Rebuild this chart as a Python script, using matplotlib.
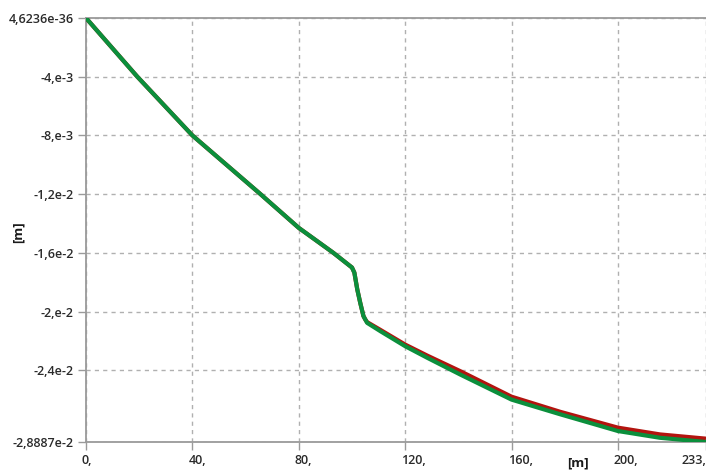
import matplotlib
matplotlib.use("Agg")
import matplotlib.pyplot as plt
import matplotlib.transforms as mtransforms

# distance along the span [m]
dist = [0, 19.3, 40.0, 65.6, 80.0, 93.0, 100.0, 100.9, 102.0, 103.1, 104.3,
        105.0, 105.7, 110.7, 120.0, 128.3, 140.7, 160.0, 178.3, 200.0, 215.8, 233.1]

# deflection [m], two load cases
defl_green = [0, -0.0040, -0.0080, -0.0120, -0.0143, -0.0160, -0.0170, -0.01735,
              -0.0185, -0.0194, -0.0203, -0.02054, -0.02077, -0.02134, -0.02236,
              -0.02315, -0.02429, -0.0260, -0.0270, -0.02814, -0.0286, -0.028887]
defl_red = [0, -0.0040, -0.0080, -0.0120, -0.0143, -0.0160, -0.0170, -0.01735,
            -0.0185, -0.0194, -0.0203, -0.02054, -0.02072, -0.02125, -0.02225,
            -0.02300, -0.02406, -0.02580, -0.02683, -0.02791, -0.02837, -0.02866]

x_ticks = [0, 40, 80, 120, 160, 200, 233.1]
x_labels = ["0,", "40,", "80,", "120,", "160,", "200,", "233,"]
y_ticks = [4.6236e-36, -0.004, -0.008, -0.012, -0.016, -0.02, -0.024, -0.028887]
y_labels = ["4,6236e-36", "-4,e-3", "-8,e-3", "-1,2e-2", "-1,6e-2", "-2,e-2", "-2,4e-2", "-2,8887e-2"]

plt.rcParams['font.family'] = ['Open Sans', 'DejaVu Sans']

fig = plt.figure(figsize=(7.06, 4.70), dpi=100)
ax = fig.add_axes([86/706, 1 - 442/470, 1 - 86/706, 424/470])

ax.plot(dist, defl_red, color='#b3140f', lw=3.0, solid_capstyle='butt', zorder=3)
ax.plot(dist, defl_green, color='#0b8f3c', lw=3.0, solid_capstyle='butt', zorder=4)

ax.set_xlim(0, 233.1)
ax.set_ylim(-0.028887, 0)

ax.set_xticks(x_ticks)
ax.set_xticklabels(x_labels)
ax.set_yticks(y_ticks)
ax.set_yticklabels(y_labels)

grid_col = '#b0b0b0'
ax.grid(True, color=grid_col, linestyle=(0, (3, 3)), lw=1)
ax.set_axisbelow(True)
for side in ['left', 'bottom', 'top']:
    ax.spines[side].set_color('#9a9a9a')
    ax.spines[side].set_linewidth(1.3)
ax.spines['right'].set_visible(False)

ax.tick_params(axis='both', direction='out', length=6, width=1, color='#9a9a9a',
               labelsize=9, labelcolor='#2a2a2a')
ax.tick_params(axis='y', pad=3)
ax.tick_params(axis='x', pad=3)

for lab in ax.get_yticklabels() + ax.get_xticklabels():
    lab.set_fontweight('semibold')

# x labels sit just right of their ticks, last one flush with the edge
shift = mtransforms.ScaledTranslation(-4/100, 0, fig.dpi_scale_trans)
xlabs = ax.get_xticklabels()
for lab in xlabs[:-1]:
    lab.set_horizontalalignment('left')
    lab.set_transform(lab.get_transform() + shift)
xlabs[-1].set_horizontalalignment('right')

fig.text(578/706, 1 - 463/470, "[m]", ha='center', va='center', fontsize=9.5,
         fontweight='bold', color='#1a1a1a')
fig.text(18/706, 1 - 232/470, "[m]", ha='center', va='center', fontsize=9.5,
         fontweight='bold', color='#1a1a1a', rotation=90)

fig.savefig("out.png", dpi=100)
